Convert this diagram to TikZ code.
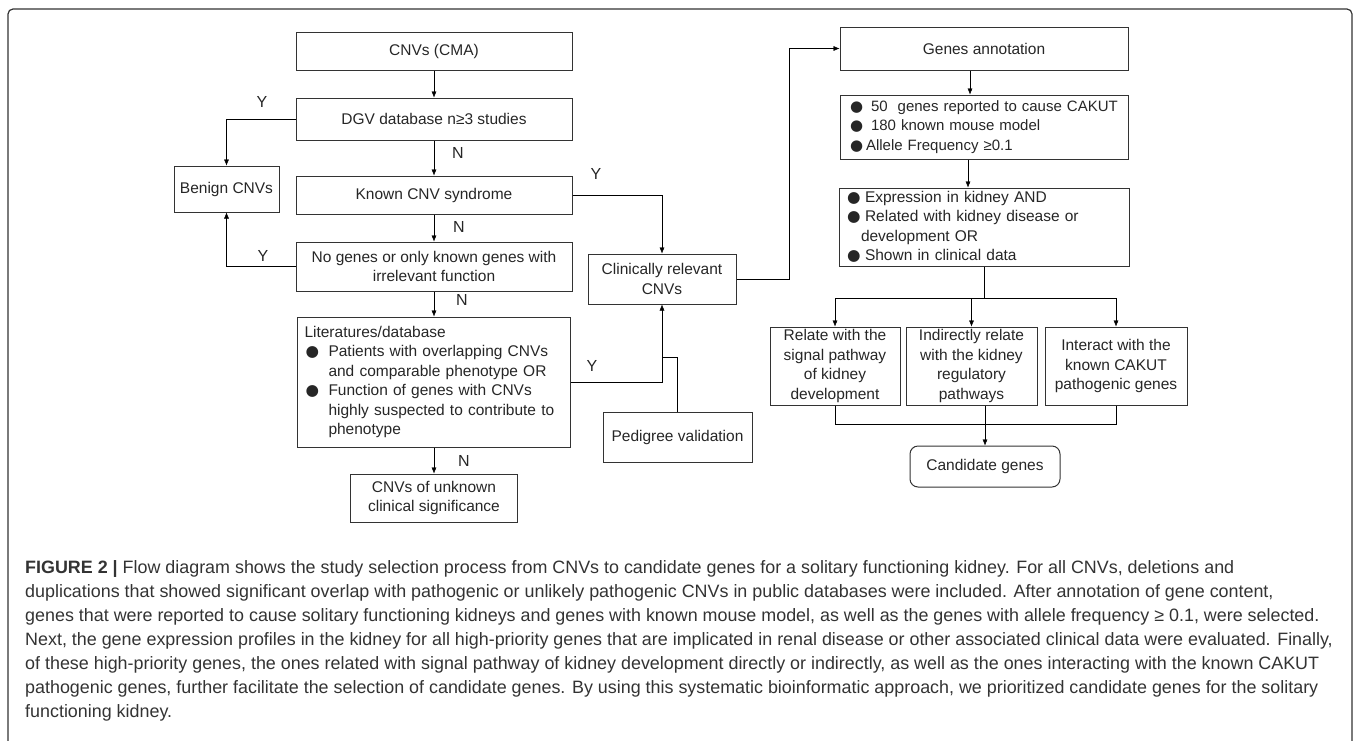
\documentclass[tikz,border=0pt]{standalone}
\usepackage{fontspec}
\setmainfont{Liberation Sans}
\newfontfamily\symfont{DejaVu Sans}
\usepackage{tikz}
\usetikzlibrary{positioning,arrows.meta}
\definecolor{boxline}{HTML}{333333}
\newcommand{\bul}[1][17pt]{\makebox[#1][l]{\symfont●}}

\begin{document}
\begin{tikzpicture}[x=1pt,y=-1pt,
    box/.style={draw=boxline,line width=1pt,inner sep=2pt,align=center,
                font=\fontsize{15.5}{19.4}\selectfont,text=black!85},
    yn/.style={font=\fontsize{16}{16}\selectfont,inner sep=0pt,text=black!85},
    >={Latex[length=6pt,width=5pt]}]
  \useasboundingbox (0,0) rectangle (1358,740);
  \draw[boxline,line width=1.2pt,rounded corners=5pt] (8,9) rectangle (1352,760);

  % left column
  \node[box,minimum width=276pt,minimum height=38pt] (cnv) at (434,51) {CNVs (CMA)};
  \node[box,minimum width=276pt,minimum height=42pt,below=27pt of cnv] (dgv) {DGV database n≥3 studies};
  \node[box,minimum width=276pt,minimum height=38pt,below=35pt of dgv] (known) {Known CNV syndrome};
  \node[box,minimum width=276pt,minimum height=49pt,below=27pt of known] (nogene) {No genes or only known genes with\\irrelevant function};
  \node[box,text width=259pt,align=left,inner xsep=7pt,minimum height=130pt,below=25pt of nogene] (lit)
    {Literatures/database\\
     \hspace*{1pt}\bul[23pt]\mbox{Patients with overlapping CNVs}\\
     \hspace*{24pt}\mbox{and comparable phenotype OR}\\
     \hspace*{1pt}\bul[23pt]\mbox{Function of genes with CNVs}\\
     \hspace*{24pt}\mbox{highly suspected to contribute to}\\
     \hspace*{24pt}phenotype};
  \node[box,minimum width=167pt,minimum height=48pt,below=26pt of lit] (unknown) {CNVs of unknown\\clinical significance};
  \node[box,minimum width=105pt,minimum height=46pt] (benign) at (226.5,189) {Benign CNVs};
  \node[box,minimum width=148pt,minimum height=50pt] (clin) at (662,279) {Clinically relevant\\CNVs};
  \node[box,minimum width=149pt,minimum height=50pt] (ped) at (677.5,437) {Pedigree validation};

  % right column
  \node[box,minimum width=288pt,minimum height=43pt] (gann) at (984,48.5) {Genes annotation};
  \node[box,text width=268pt,align=left,inner xsep=10pt,minimum height=64pt,font=\fontsize{15}{19.4}\selectfont,below=24pt of gann] (crit1)
    {\bul[21pt]\mbox{50\ \ genes reported to cause CAKUT}\\
     \bul[21pt]\mbox{180 known mouse model}\\
     \bul[16pt]\mbox{Allele Frequency ≥0.1}};
  \node[box,text width=274pt,align=left,inner xsep=8pt,minimum height=78pt,below=28pt of crit1] (crit2)
    {\bul[18pt]\mbox{Expression in kidney AND}\\
     \bul[18pt]\mbox{Related with kidney disease or}\\
     \hspace*{14pt}development OR\\
     \bul[18pt]\mbox{Shown in clinical data}};
  \node[box,minimum width=130pt,minimum height=78pt,inner ysep=1pt] (path1) at (835,366) {Relate with the\\signal pathway\\of kidney\\development};
  \node[box,minimum width=131pt,minimum height=78pt,inner ysep=1pt,right=5pt of path1] (path2) {Indirectly relate\\with the kidney\\regulatory\\pathways};
  \node[box,minimum width=142pt,minimum height=78pt,inner ysep=1pt,right=7pt of path2] (path3) {Interact with the\\known CAKUT\\pathogenic genes};
  \node[box,rounded corners=8pt,minimum width=150pt,minimum height=41pt] (cand) at (985,466.5) {Candidate genes};

  % Y/N labels
  \node[yn] (y1) at (262,102) {Y};
  \node[yn] (n1) at (458,153) {N};
  \node[yn] (y2) at (596,174) {Y};
  \node[yn] (n2) at (459,227) {N};
  \node[yn] (y3) at (263,256) {Y};
  \node[yn] (n3) at (462,300) {N};
  \node[yn] (y4) at (592,366) {Y};
  \node[yn] (n4) at (464,461) {N};

  % connectors
  \draw[->] (cnv) -- (dgv);
  \draw[->] (dgv.west) -| (benign.north);
  \draw[->] (dgv) -- (known);
  \draw[->] (known.east) -| (clin.north);
  \draw[->] (known) -- (nogene);
  \draw[->] (nogene.west) -| (benign.south);
  \draw[->] (nogene) -- (lit);
  \draw[->] (lit.east) -| (clin.south);
  \coordinate (pedjoin) at (662,357);
  \draw (ped.north) |- (pedjoin);
  \draw[->] (lit) -- (unknown);
  \draw[->] (clin.east) -- ++(53,0) |- (gann.west);
  \draw[->] ([xshift=-14pt]gann.south) -- ([xshift=-14pt]crit1.north);
  \draw[->] ([xshift=-16pt]crit1.south) -- ([xshift=-16pt]crit2.north);
  \coordinate (split) at ([yshift=-32pt]crit2.south);
  \draw (crit2.south) -- (split);
  \draw[->] (split) -| (path1.north);
  \draw[->] (split) -| (path2.north);
  \draw[->] (split) -| (path3.north);
  \coordinate (merge) at ([yshift=-19pt]path2.south -| cand.north);
  \draw (path1.south) |- (merge);
  \draw (path3.south) |- (merge);
  \draw[->] (path2.south -| merge) -- (cand.north);

  % caption
  \node[anchor=north west,align=left,inner sep=0pt,font=\fontsize{17.9}{24}\selectfont,text=black!80] (caption) at (25,560)
    {\textbf{FIGURE 2 |} Flow diagram shows the study selection process from CNVs to candidate genes for a solitary functioning kidney. For all CNVs, deletions and\\
     duplications that showed significant overlap with pathogenic or unlikely pathogenic CNVs in public databases were included. After annotation of gene content,\\
     genes that were reported to cause solitary functioning kidneys and genes with known mouse model, as well as the genes with allele frequency ≥ 0.1, were selected.\\
     Next, the gene expression profiles in the kidney for all high-priority genes that are implicated in renal disease or other associated clinical data were evaluated. Finally,\\
     of these high-priority genes, the ones related with signal pathway of kidney development directly or indirectly, as well as the ones interacting with the known CAKUT\\
     pathogenic genes, further facilitate the selection of candidate genes. By using this systematic bioinformatic approach, we prioritized candidate genes for the solitary\\
     functioning kidney.};
\end{tikzpicture}
\end{document}
